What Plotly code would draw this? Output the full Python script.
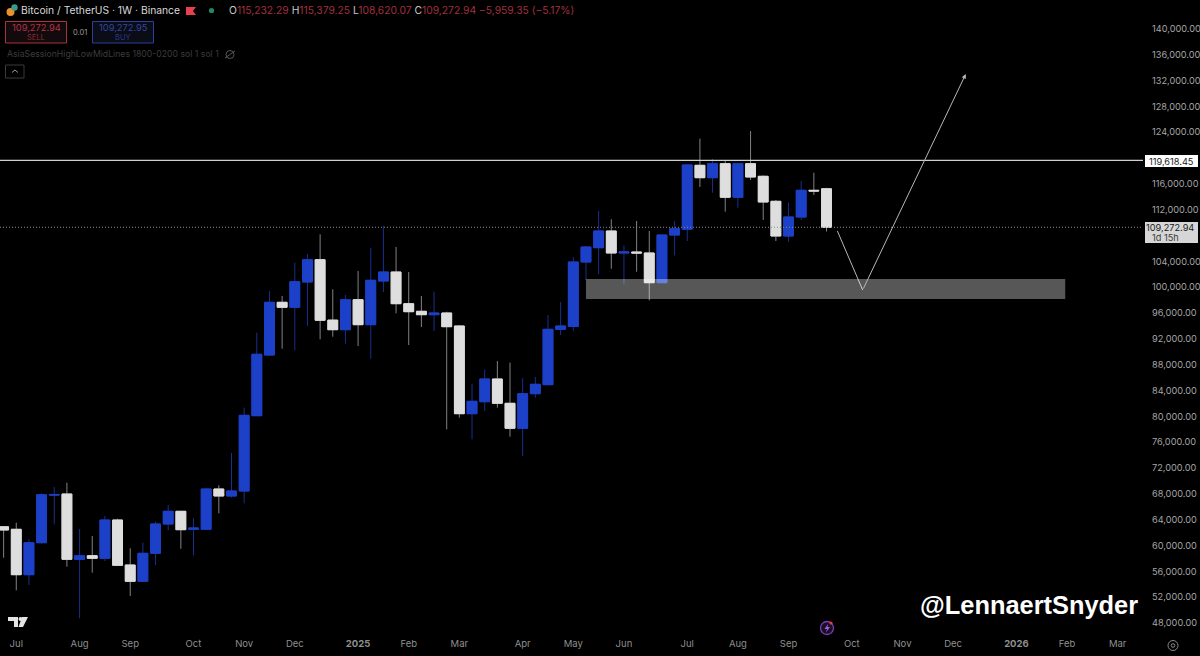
import pandas as pd
import plotly.graph_objects as go

opens = [62900,62507,55478,60433,67800,67974,57862,58420,58018,63948,56980,54456,58792,63329,65295,62500,62507,68748,67664,68438,
 80097,89497,97657,96883,100800,104253,94900,93414,98059,94188,100955,102348,97440,96262,95737,96000,93987,80408,82265,85780,
 82018,78147,83504,84898,93476,93900,103897,106111,108697,105290,105445,105290,100692,108077,108960,118870,116950,119118,113915,119118,
 117166,113296,107923,110865,114999,115232.29]
highs = [62950,63530,61006,68050,69058,69723,62554,61471,64567,64149,59566,60433,63685,66271,65342,64212,68950,69321,74322,81337,
 92950,99406,98632,103788,105135,108186,99670,98787,102503,106111,109471,106219,102348,98632,99298,96201,94142,85052,87282,88568,
 88305,85889,86090,95690,97703,104671,106374,111794,110509,106483,110245,108697,108200,110245,119071,122989,119892,119536,119150,124181,
 117322,113497,113079,116439,117724,115379.25]
lows = [58110,53063,53883,60300,63282,56717,48727,55788,57600,56850,52180,54400,56980,62353,59504,58482,62450,64985,67402,66534,
 80050,89342,90472,90224,93987,91928,92330,91246,90890,88924,99252,95953,91045,93832,93213,77992,79788,76444,80826,81337,
 76846,73858,82885,84850,92593,93213,101063,101992,102860,100444,102395,97966,100644,104903,107148,115510,114627,111685,112305,116594,
 110400,107148,107040,110400,114271,108620.07]
closes = [62400,55478,60433,67865,67900,57862,58420,58018,63948,56934,54456,58792,63329,65295,62446,62709,68748,67664,68438,80160,
 89605,97657,96883,100846,104253,94870,93414,98059,94188,101063,102348,97440,96201,95737,96000,93879,80408,82327,85780,82018,
 78147,83504,84960,93476,93987,103897,106219,108697,105290,105445,105290,100692,108077,109053,118916,116950,119118,113915,119118,117058,
 113187,107923,110865,114999,114890,109272.94]
first_week = "2024-06-24"
dates = pd.date_range(first_week, periods=len(opens), freq="7D")

price_ticks = [144000,140000,136000,132000,128000,124000,116000,112000,104000,100000,96000,92000,88000,84000,80000,76000,72000,68000,64000,60000,56000,52000,48000]
month_ticks = ["2024-07-01","2024-08-05","2024-09-02","2024-10-07","2024-11-04","2024-12-02","2025-01-06","2025-02-03","2025-03-03","2025-04-07","2025-05-05","2025-06-02","2025-07-07","2025-08-04","2025-09-01","2025-10-06","2025-11-03","2025-12-01","2026-01-05","2026-02-02","2026-03-02"]
month_labels = ["Jul","Aug","Sep","Oct","Nov","Dec","<b>2025</b>","Feb","Mar","Apr","May","Jun","Jul","Aug","Sep","Oct","Nov","Dec","<b>2026</b>","Feb","Mar"]

resistance = 119618.45
last_price = 109272.94
zone_dates = ["2025-05-12","2026-02-01"]
zone_prices = [98160,101260]
path_dates = ["2025-09-28","2025-10-12"]
path_prices = [108700,99560]
target_date = "2025-12-08"
target_price = 133000

W, H = 1143, 636
def X(px): return px / W
def Y(py): return 1 - py / H

BLUE = "#1c41c8"
LIGHT = "#dedede"
fig = go.Figure()
# full range in wick colours, then the open-close bodies in clean colours on top
fig.add_trace(go.Candlestick(
    x=dates, open=opens, high=highs, low=lows, close=closes,
    increasing=dict(line=dict(color="#1a2f8c", width=1), fillcolor=BLUE),
    decreasing=dict(line=dict(color="#828282", width=1), fillcolor=LIGHT),
    whiskerwidth=0, hoverinfo="skip", showlegend=False))
fig.add_trace(go.Candlestick(
    x=dates, open=opens, close=closes,
    high=[max(a, b) for a, b in zip(opens, closes)],
    low=[min(a, b) for a, b in zip(opens, closes)],
    increasing=dict(line=dict(color=BLUE, width=1), fillcolor=BLUE),
    decreasing=dict(line=dict(color=LIGHT, width=1), fillcolor=LIGHT),
    whiskerwidth=0, hoverinfo="skip", showlegend=False))
fig.add_trace(go.Scatter(x=path_dates, y=path_prices, mode="lines",
    line=dict(color="#b8b8b8", width=1), hoverinfo="skip", showlegend=False))

shapes = [
    dict(type="rect", xref="x", yref="y", x0=zone_dates[0], x1=zone_dates[1], y0=zone_prices[0], y1=zone_prices[1],
         fillcolor="rgba(255,255,255,0.34)", line=dict(width=0), layer="above"),
    dict(type="line", xref="paper", yref="y", x0=0, x1=1, y0=resistance, y1=resistance,
         line=dict(color="#d0d0d0", width=1.2)),
    dict(type="line", xref="paper", yref="y", x0=0, x1=1, y0=last_price, y1=last_price,
         line=dict(color="#8a8a8a", width=1, dash="1px,2px")),
]
def rect(x0, y0, x1, y1, fill="rgba(0,0,0,0)", line=None, width=1):
    shapes.append(dict(type="rect", xref="paper", yref="paper", x0=X(x0), x1=X(x1), y0=Y(y1), y1=Y(y0),
                       fillcolor=fill, line=dict(color=line, width=width) if line else dict(width=0)))
def circle(cx, cy, r, fill="rgba(0,0,0,0)", line=None, width=1):
    shapes.append(dict(type="circle", xref="paper", yref="paper", x0=X(cx-r), x1=X(cx+r), y0=Y(cy+r), y1=Y(cy-r),
                       fillcolor=fill, line=dict(color=line, width=width) if line else dict(width=0)))
def poly(points, fill="rgba(0,0,0,0)", line=None, width=1, close=True):
    d = "M " + " L ".join(f"{X(a):.5f},{Y(b):.5f}" for a, b in points) + (" Z" if close else "")
    shapes.append(dict(type="path", xref="paper", yref="paper", path=d, fillcolor=fill,
                       line=dict(color=line, width=width) if line else dict(width=0)))

# value boxes on the price scale
rect(1145, 155, 1198, 167, fill="#ffffff")
rect(1145, 222, 1198, 243, fill="#d6d6d6")
# sell / buy
rect(5.5, 21.5, 66.5, 43, fill="#120a0c", line="#a8303f")
rect(92.5, 21.5, 153.5, 43, fill="#0a0c16", line="#2c3f9c")
rect(5.5, 65, 24, 78, line="#3a3a3a")
poly([(12, 72.5), (15, 70), (18, 72.5)], line="#9a9a9a", width=1, close=False)
# symbol icons
circle(10.5, 12, 4, fill="#e8912d")
circle(14.5, 7.5, 3.2, fill="#3a9a8c")
poly([(186, 7), (196, 7), (193, 11), (196, 15), (186, 15)], fill="#e8404f")
circle(211.5, 10.5, 2.6, fill="#1f8a66")
# eye
circle(230, 54.5, 4, line="#555555")
poly([(225, 58), (235, 51)], line="#555555", close=False)
# tradingview logo
poly([(8, 617), (18, 617), (18, 627), (14, 627), (14, 621), (8, 621)], fill="#e4e4e4")
circle(20.5, 619, 2, fill="#e4e4e4")
poly([(22, 617), (28, 617), (23, 627), (18.5, 627)], fill="#e4e4e4")
# lightning button
circle(827, 628, 6.5, fill="#1a0f26", line="#7a3fb0", width=1.3)
poly([(828, 624), (824.5, 629), (827, 629), (826, 632.5), (830, 627), (827.5, 627)], fill="#9a5fe0")
circle(831, 623, 1.6, fill="#e83a4a")
# settings
circle(1173, 645.5, 5, line="#8a8a8a")
circle(1173, 645.5, 1.8, line="#8a8a8a")

ann = []
def text(x, y, s, color, size, anchor="left", font="Inter"):
    ann.append(dict(xref="paper", yref="paper", x=X(x), y=Y(y), text=s, showarrow=False, xanchor=anchor, yanchor="middle",
                    font=dict(color=color, size=size, family=font), align=anchor, borderpad=0))
RED = "#a1303f"
text(20, 10.5, "Bitcoin / TetherUS · 1W · Binance", "#d9d9d9", 10.3)
text(228, 10.5, f"<span style='color:#c8c8c8'>O</span>115,232.29 <span style='color:#c8c8c8'>H</span>115,379.25 "
     f"<span style='color:#c8c8c8'>L</span>108,620.07 <span style='color:#c8c8c8'>C</span>109,272.94 −5,959.35 (−5.17%)", RED, 10.3)
text(36, 27.5, "109,272.94", "#b03444", 9.3, "center")
text(36, 37, "SELL", "#8c2a38", 7.5, "center")
text(79.5, 32.5, "0.01", "#9a9a9a", 7.5, "center")
text(123, 27.5, "109,272.95", "#33479f", 9.3, "center")
text(123, 37, "BUY", "#2a3b88", 7.5, "center")
text(6, 54.5, "AsiaSessionHighLowMidLines 1800-0200 sol 1 sol 1", "#3c3c3c", 8.7)
text(1195, 161, "119,618.45", "#1a1a1a", 9.2, "right")
text(1195, 228, "109,272.94", "#1a1a1a", 9.2, "right")
text(1151, 237.5, "1d 15h", "#3a3a3a", 9.2, "left")
text(1138.5, 605, "<b>@LennaertSnyder</b>", "#ffffff", 25.4, "right", "Liberation Sans")
ann.append(dict(xref="x", yref="y", axref="x", ayref="y", x=target_date, y=target_price,
                ax=path_dates[1], ay=path_prices[1], text="", showarrow=True,
                arrowhead=2, arrowsize=0.9, arrowwidth=1, arrowcolor="#b8b8b8"))

fig.update_layout(
    width=1203, height=658, margin=dict(l=0, r=60, t=0, b=22, pad=0), autosize=False,
    paper_bgcolor="#000000", plot_bgcolor="#000000", showlegend=False,
    boxgap=0.22, boxgroupgap=0, boxmode="overlay",
    shapes=shapes, annotations=ann, font=dict(family="Inter", color="#a6a6a6"),
    xaxis=dict(type="date", range=["2024-06-22", "2026-03-16"], rangeslider=dict(visible=False), showgrid=False, zeroline=False,
               showline=False, tickmode="array", tickvals=month_ticks, ticktext=month_labels, ticks="", ticklen=0,
               tickfont=dict(size=9.5, color="#8f8f8f")),
    yaxis=dict(side="right", range=[45987, 144465], showgrid=False, zeroline=False, showline=False,
               tickmode="array", tickvals=price_ticks, tickformat=",.2f", ticks="", ticklen=0,
               tickfont=dict(size=9.2, color="#a6a6a6"), ticklabelstandoff=8),
)
fig.write_html("out.html", config=dict(displayModeBar=False),
               post_script="document.documentElement.style.background='#000';document.body.style.margin='0';document.body.style.overflow='hidden';")
